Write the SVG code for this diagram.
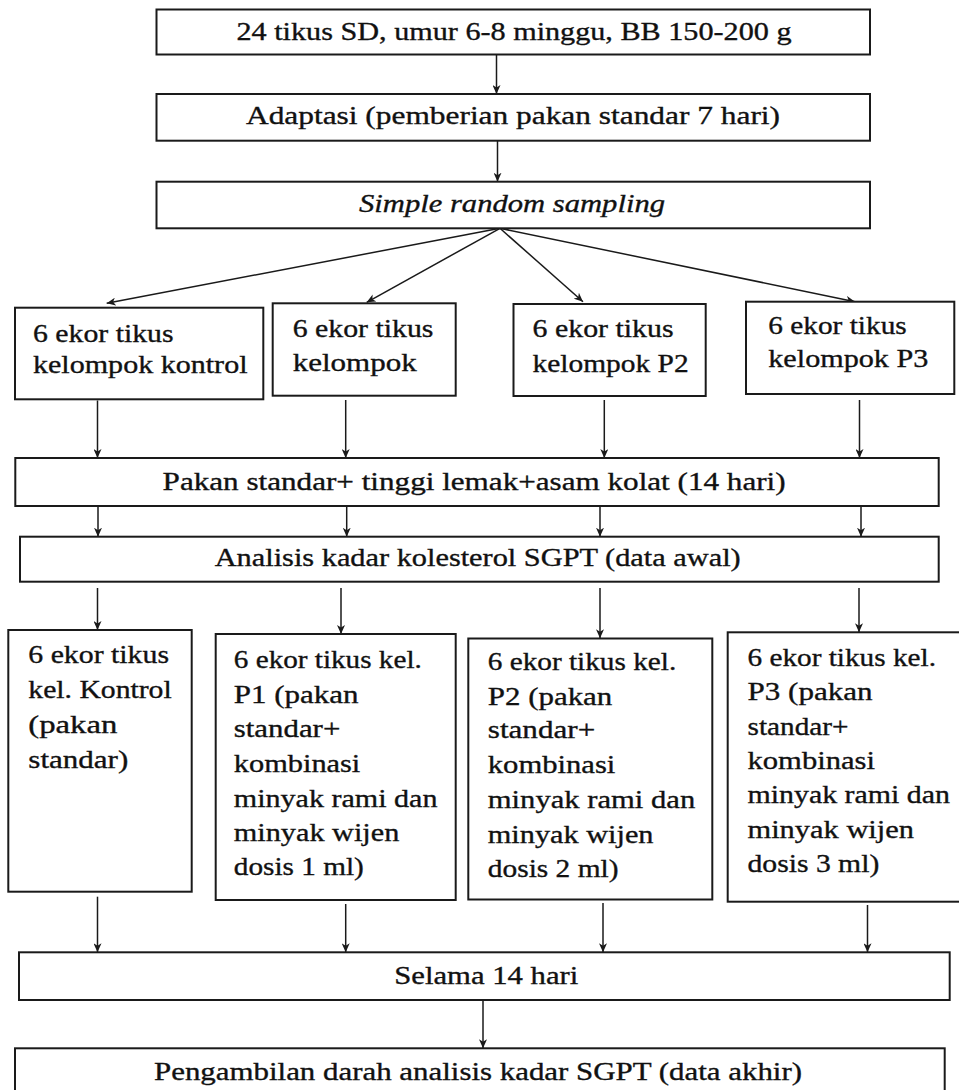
<svg xmlns="http://www.w3.org/2000/svg" width="959" height="1090" viewBox="0 0 959 1090">
<defs>
<style>
.box{fill:#fff;stroke:#1a1a1a;stroke-width:2}
.t{font-family:"Liberation Serif","Times New Roman",serif;font-size:26px;fill:#111;stroke:#111;stroke-width:0.35}
.i{font-style:italic}
.c{stroke:#1a1a1a;stroke-width:1.5;fill:none;marker-end:url(#ah)}
</style>
<marker id="ah" markerUnits="userSpaceOnUse" markerWidth="10" markerHeight="8" refX="9" refY="4" orient="auto">
<path d="M0,0 L9,4 L0,8 L2.5,4 z" fill="#1a1a1a"/>
</marker>
</defs>
<rect width="959" height="1090" fill="#fff"/>
<g id="connectors">
<line class="c" x1="496.5" y1="54.3" x2="496.5" y2="94"/>
<line class="c" x1="497.5" y1="140.7" x2="497.5" y2="181.7"/>
<line class="c" x1="500" y1="228.3" x2="106.7" y2="303.3"/>
<line class="c" x1="500" y1="228.3" x2="366.7" y2="302.3"/>
<line class="c" x1="500" y1="228.3" x2="583" y2="301.7"/>
<line class="c" x1="500" y1="228.3" x2="855" y2="301.7"/>
<line class="c" x1="97.5" y1="400.5" x2="97.5" y2="458"/>
<line class="c" x1="345.7" y1="400" x2="345.7" y2="458"/>
<line class="c" x1="604.3" y1="400" x2="604.3" y2="458"/>
<line class="c" x1="859.5" y1="400" x2="859.5" y2="458"/>
<line class="c" x1="98" y1="506" x2="98" y2="536.7"/>
<line class="c" x1="346.7" y1="506" x2="346.7" y2="536.7"/>
<line class="c" x1="600" y1="506" x2="600" y2="536.7"/>
<line class="c" x1="861" y1="506" x2="861" y2="536.7"/>
<line class="c" x1="97.5" y1="588" x2="97.5" y2="630"/>
<line class="c" x1="341" y1="588" x2="341" y2="634"/>
<line class="c" x1="600" y1="588" x2="600" y2="638.3"/>
<line class="c" x1="859" y1="588" x2="859" y2="632.3"/>
<line class="c" x1="97.5" y1="896.7" x2="97.5" y2="952.3"/>
<line class="c" x1="345.7" y1="904" x2="345.7" y2="952.3"/>
<line class="c" x1="603" y1="903" x2="603" y2="952.3"/>
<line class="c" x1="867.5" y1="905" x2="867.5" y2="952.3"/>
<line class="c" x1="483" y1="1000" x2="483" y2="1048.3"/>
</g>
<g id="n1">
<rect class="box" x="156.5" y="9.5" width="713.5" height="45"/>
<text class="t" x="236.5" y="39.5" textLength="555" lengthAdjust="spacingAndGlyphs">24 tikus SD, umur 6-8 minggu, BB 150-200 g</text>
</g>
<g id="n2">
<rect class="box" x="156.5" y="94" width="713.5" height="46.7"/>
<text class="t" x="246" y="124" textLength="534" lengthAdjust="spacingAndGlyphs">Adaptasi (pemberian pakan standar 7 hari)</text>
</g>
<g id="n3">
<rect class="box" x="156.5" y="181.7" width="713.5" height="46.6"/>
<text class="t i" x="359" y="211.5" textLength="306" lengthAdjust="spacingAndGlyphs">Simple random sampling</text>
</g>
<g id="a1">
<rect class="box" x="15" y="307.7" width="248.3" height="91.6"/>
<text class="t" x="33" y="341.7" textLength="140.5" lengthAdjust="spacingAndGlyphs">6 ekor tikus</text>
<text class="t" x="33" y="372.5" textLength="214.5" lengthAdjust="spacingAndGlyphs">kelompok kontrol</text>
</g>
<g id="a2">
<rect class="box" x="272.7" y="303.3" width="183" height="92.4"/>
<text class="t" x="292.7" y="336.8" textLength="140.7" lengthAdjust="spacingAndGlyphs">6 ekor tikus</text>
<text class="t" x="292.7" y="371.3" textLength="124" lengthAdjust="spacingAndGlyphs">kelompok</text>
</g>
<g id="a3">
<rect class="box" x="513.5" y="304" width="192.2" height="92"/>
<text class="t" x="532.6" y="337" textLength="141" lengthAdjust="spacingAndGlyphs">6 ekor tikus</text>
<text class="t" x="532.6" y="371.5" textLength="156" lengthAdjust="spacingAndGlyphs">kelompok P2</text>
</g>
<g id="a4">
<rect class="box" x="746" y="301.7" width="208.3" height="92.3"/>
<text class="t" x="768.3" y="334.3" textLength="138.4" lengthAdjust="spacingAndGlyphs">6 ekor tikus</text>
<text class="t" x="768.3" y="367.3" textLength="160" lengthAdjust="spacingAndGlyphs">kelompok  P3</text>
</g>
<g id="b">
<rect class="box" x="15.3" y="458" width="923.4" height="48"/>
<text class="t" x="162.6" y="489.5" textLength="623" lengthAdjust="spacingAndGlyphs">Pakan standar+ tinggi lemak+asam kolat (14 hari)</text>
</g>
<g id="c">
<rect class="box" x="20" y="536.7" width="918.7" height="45"/>
<text class="t" x="214.7" y="566" textLength="526" lengthAdjust="spacingAndGlyphs">Analisis kadar kolesterol SGPT (data awal)</text>
</g>
<g id="d1">
<rect class="box" x="8.3" y="630" width="183.4" height="261.7"/>
<text class="t" x="28.3" y="663.3" textLength="140.7" lengthAdjust="spacingAndGlyphs">6 ekor tikus</text>
<text class="t" x="28.3" y="698.3" textLength="143.4" lengthAdjust="spacingAndGlyphs">kel. Kontrol</text>
<text class="t" x="28.3" y="733.3" textLength="89" lengthAdjust="spacingAndGlyphs">(pakan</text>
<text class="t" x="28.3" y="767.7" textLength="100" lengthAdjust="spacingAndGlyphs">standar)</text>
</g>
<g id="d2">
<rect class="box" x="215.7" y="634" width="240" height="266"/>
<text class="t" x="233.8" y="668" textLength="188" lengthAdjust="spacingAndGlyphs">6 ekor tikus kel.</text>
<text class="t" x="233.8" y="703" textLength="124.7" lengthAdjust="spacingAndGlyphs">P1 (pakan</text>
<text class="t" x="233.8" y="737.3" textLength="106.5" lengthAdjust="spacingAndGlyphs">standar+</text>
<text class="t" x="233.8" y="771.7" textLength="126.5" lengthAdjust="spacingAndGlyphs">kombinasi</text>
<text class="t" x="233.8" y="806.7" textLength="203.7" lengthAdjust="spacingAndGlyphs">minyak rami dan</text>
<text class="t" x="233.8" y="840.7" textLength="165.5" lengthAdjust="spacingAndGlyphs">minyak wijen</text>
<text class="t" x="233.8" y="875" textLength="130" lengthAdjust="spacingAndGlyphs">dosis 1 ml)</text>
</g>
<g id="d3">
<rect class="box" x="468.3" y="638.5" width="244" height="261"/>
<text class="t" x="487.8" y="670" textLength="188.4" lengthAdjust="spacingAndGlyphs">6 ekor tikus kel.</text>
<text class="t" x="487.8" y="705" textLength="124.5" lengthAdjust="spacingAndGlyphs">P2 (pakan</text>
<text class="t" x="487.8" y="738.3" textLength="107.4" lengthAdjust="spacingAndGlyphs">standar+</text>
<text class="t" x="487.8" y="773.3" textLength="127.6" lengthAdjust="spacingAndGlyphs">kombinasi</text>
<text class="t" x="487.8" y="808.3" textLength="207.4" lengthAdjust="spacingAndGlyphs">minyak rami dan</text>
<text class="t" x="487.8" y="843" textLength="165.7" lengthAdjust="spacingAndGlyphs">minyak wijen</text>
<text class="t" x="487.8" y="876.7" textLength="130.7" lengthAdjust="spacingAndGlyphs">dosis 2 ml)</text>
</g>
<g id="d4">
<rect class="box" x="727.7" y="632.3" width="234" height="269.4"/>
<text class="t" x="747.5" y="666" textLength="188.5" lengthAdjust="spacingAndGlyphs">6 ekor tikus kel.</text>
<text class="t" x="747.5" y="700.3" textLength="125" lengthAdjust="spacingAndGlyphs">P3 (pakan</text>
<text class="t" x="747.5" y="734.6" textLength="101" lengthAdjust="spacingAndGlyphs">standar+</text>
<text class="t" x="747.5" y="769" textLength="127.5" lengthAdjust="spacingAndGlyphs">kombinasi</text>
<text class="t" x="747.5" y="803.3" textLength="202.5" lengthAdjust="spacingAndGlyphs">minyak rami dan</text>
<text class="t" x="747.5" y="837.6" textLength="166.5" lengthAdjust="spacingAndGlyphs">minyak wijen</text>
<text class="t" x="747.5" y="872" textLength="131.8" lengthAdjust="spacingAndGlyphs">dosis 3 ml)</text>
</g>
<g id="e">
<rect class="box" x="19" y="952.3" width="930.7" height="47.7"/>
<text class="t" x="394.3" y="984" textLength="184" lengthAdjust="spacingAndGlyphs">Selama 14 hari</text>
</g>
<g id="f">
<rect class="box" x="15" y="1048.3" width="929.7" height="60"/>
<text class="t" x="154" y="1079.5" textLength="648" lengthAdjust="spacingAndGlyphs">Pengambilan darah analisis kadar SGPT (data akhir)</text>
</g>
</svg>
